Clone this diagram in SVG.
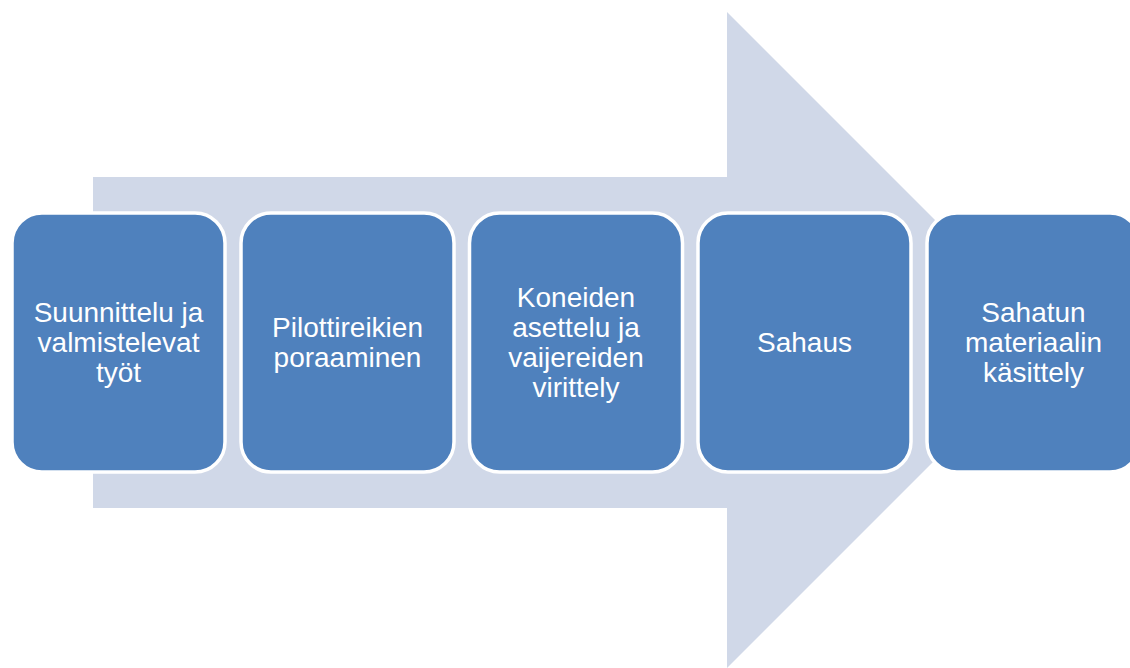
<svg xmlns="http://www.w3.org/2000/svg" width="1130" height="668" viewBox="0 0 1130 668">
<style>
.box{fill:#4F81BD;stroke:#FFFFFF;stroke-width:3.5}
.lbl{font-family:"Liberation Sans",Arial,sans-serif;font-size:28px;fill:#FFFFFF;text-anchor:middle}
</style>
<rect width="1130" height="668" fill="#FFFFFF"/>
<g id="arrow">
<polygon points="93,177 727,177 727,12 1055,340 727,668 727,508 93,508" fill="#D0D8E8"/>
</g>
<g id="node1">
<rect class="box" x="12" y="213" width="213" height="259" rx="30"/>
<text class="lbl" x="118.5" y="322">Suunnittelu ja</text>
<text class="lbl" x="118.5" y="352">valmistelevat</text>
<text class="lbl" x="118.5" y="382">työt</text>
</g>
<g id="node2">
<rect class="box" x="241" y="213" width="213" height="259" rx="30"/>
<text class="lbl" x="347.5" y="337">Pilottireikien</text>
<text class="lbl" x="347.5" y="367">poraaminen</text>
</g>
<g id="node3">
<rect class="box" x="469.5" y="213" width="213" height="259" rx="30"/>
<text class="lbl" x="576" y="307">Koneiden</text>
<text class="lbl" x="576" y="337">asettelu ja</text>
<text class="lbl" x="576" y="367">vaijereiden</text>
<text class="lbl" x="576" y="397">virittely</text>
</g>
<g id="node4">
<rect class="box" x="698" y="213" width="213" height="259" rx="30"/>
<text class="lbl" x="804.5" y="352">Sahaus</text>
</g>
<g id="node5">
<rect class="box" x="927" y="213" width="213" height="259" rx="30"/>
<text class="lbl" x="1033.5" y="322">Sahatun</text>
<text class="lbl" x="1033.5" y="352">materiaalin</text>
<text class="lbl" x="1033.5" y="382">käsittely</text>
</g>
<g id="connectors"></g>
</svg>
